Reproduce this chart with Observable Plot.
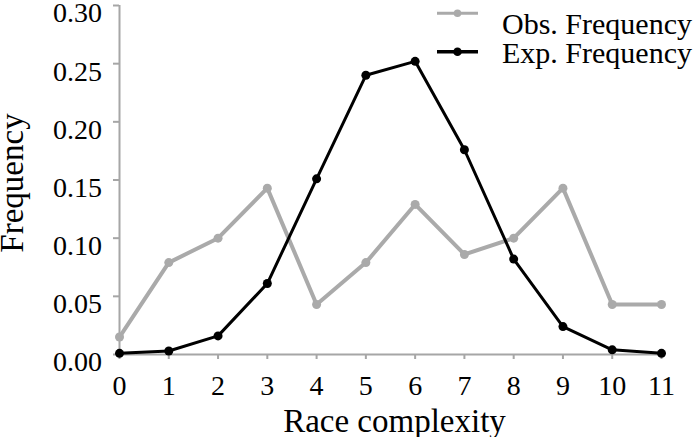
<!DOCTYPE html>
<html>
<head>
<meta charset="utf-8">
<script src="https://cdn.jsdelivr.net/npm/d3@7"></script>
<script src="https://cdn.jsdelivr.net/npm/@observablehq/plot@0.6"></script>
<style>
  html, body { margin: 0; padding: 0; background: #fff; }
  #wrap { position: relative; width: 700px; height: 437px; font-family: "Liberation Serif", "Times New Roman", serif; }
  #legend { position: absolute; left: 0; top: 0; pointer-events: none; }
</style>
</head>
<body>
<div id="wrap"></div>
<script>
// Data
const complexity = [0, 1, 2, 3, 4, 5, 6, 7, 8, 9, 10, 11];
const obsFrequency = [0.015, 0.079, 0.100, 0.143, 0.043, 0.079, 0.129, 0.086, 0.100, 0.143, 0.043, 0.043];
const expFrequency = [0.001, 0.003, 0.016, 0.061, 0.151, 0.240, 0.252, 0.176, 0.082, 0.024, 0.004, 0.001];
const yTicks = [0, 0.05, 0.10, 0.15, 0.20, 0.25, 0.30];
const xTicks = complexity;
const seriesNames = ["Obs. Frequency", "Exp. Frequency"];
const seriesColors = ["#aaaaaa", "#000000"];

const obsData = complexity.map((x, i) => ({x, y: obsFrequency[i]}));
const expData = complexity.map((x, i) => ({x, y: expFrequency[i]}));

const axisGray = "#a6a6a6";
const font = '"Liberation Serif", "Times New Roman", serif';

const chart = Plot.plot({
  width: 700,
  height: 437,
  marginLeft: 119,
  marginRight: 39,
  marginTop: 5,
  marginBottom: 83,
  style: {fontFamily: font, fontSize: "28px", color: "#000", background: "#fff", overflow: "visible"},
  x: {domain: [0, 11]},
  y: {domain: [0, 0.30]},
  marks: [
    // y axis ticks
    Plot.axisY(yTicks, {tickSize: 6, stroke: axisGray, strokeWidth: 2, tickFormat: () => "", label: null}),
    // y axis labels
    Plot.axisY(yTicks, {tickSize: 0, tickPadding: 17.5, dy: 8, fill: "#000", fontSize: 28, tickFormat: d => d.toFixed(2), label: null}),
    // x axis ticks and labels
    Plot.axisX(xTicks, {tickSize: 5, stroke: axisGray, strokeWidth: 2, tickPadding: 16, fill: "#000", fontSize: 28, tickFormat: d => String(d), label: null}),
    Plot.ruleX([0], {stroke: axisGray, strokeWidth: 2}),
    Plot.ruleY([0], {stroke: axisGray, strokeWidth: 2}),
    // axis titles
    Plot.text(["Frequency"], {text: d => d, frameAnchor: "left", textAnchor: "middle", lineAnchor: "middle", rotate: -90, dx: -107, dy: 3, fontSize: 33, fill: "#000"}),
    Plot.text(["Race complexity"], {text: d => d, frameAnchor: "bottom", textAnchor: "middle", lineAnchor: "middle", dx: 4, dy: 67, fontSize: 33, fill: "#000"}),
    // series
    Plot.line(obsData, {x: "x", y: "y", stroke: seriesColors[0], strokeWidth: 4}),
    Plot.dot(obsData, {x: "x", y: "y", r: 4.5, fill: seriesColors[0], stroke: "none"}),
    Plot.line(expData, {x: "x", y: "y", stroke: seriesColors[1], strokeWidth: 3}),
    Plot.dot(expData, {x: "x", y: "y", r: 4.5, fill: seriesColors[1], stroke: "none"})
  ]
});

const wrap = document.getElementById("wrap");
wrap.appendChild(chart);

// Legend overlay (top-right, inside the plot area as in the reference)
const ns = "http://www.w3.org/2000/svg";
const leg = document.createElementNS(ns, "svg");
leg.setAttribute("id", "legend");
leg.setAttribute("width", 700);
leg.setAttribute("height", 80);
const rows = [
  {lineY: 13.3, textY: 33.5, sw: 3, r: 3.8},
  {lineY: 51.7, textY: 62.5, sw: 3.5, r: 4.3}
];
seriesNames.forEach((name, i) => {
  const row = rows[i];
  const ln = document.createElementNS(ns, "line");
  ln.setAttribute("x1", 437); ln.setAttribute("x2", 478);
  ln.setAttribute("y1", row.lineY); ln.setAttribute("y2", row.lineY);
  ln.setAttribute("stroke", seriesColors[i]); ln.setAttribute("stroke-width", row.sw);
  leg.appendChild(ln);
  const c = document.createElementNS(ns, "circle");
  c.setAttribute("cx", 457.5); c.setAttribute("cy", row.lineY); c.setAttribute("r", row.r);
  c.setAttribute("fill", seriesColors[i]);
  leg.appendChild(c);
  const t = document.createElementNS(ns, "text");
  t.setAttribute("x", 502); t.setAttribute("y", row.textY);
  t.setAttribute("font-family", font); t.setAttribute("font-size", 30);
  t.setAttribute("fill", "#000");
  t.textContent = name;
  leg.appendChild(t);
});
wrap.appendChild(leg);
</script>
</body>
</html>
